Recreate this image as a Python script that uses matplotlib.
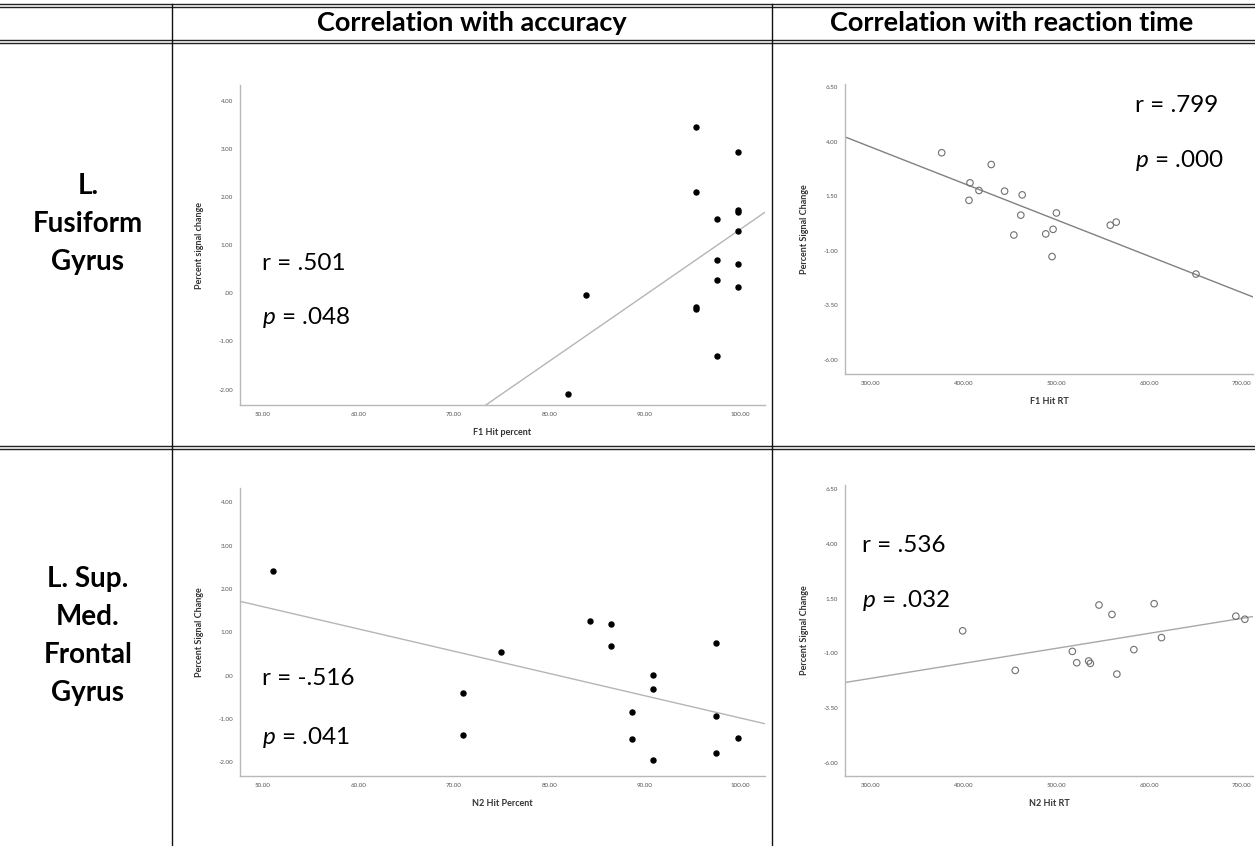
import matplotlib
matplotlib.use('Agg')
import matplotlib.pyplot as plt
from matplotlib.lines import Line2D

plt.rcParams['font.family'] = ['Lato', 'DejaVu Sans']
plt.rcParams['mathtext.fontset'] = 'custom'
plt.rcParams['mathtext.it'] = 'Lato:italic'
plt.rcParams['mathtext.rm'] = 'Lato'

# ---- data ----
# L. Fusiform Gyrus, accuracy (F1 Hit percent vs percent signal change)
fus_acc_x = [95.4, 99.8, 95.4, 99.8, 99.8, 97.6, 99.8, 97.6, 99.8, 97.6, 99.8,
             83.8, 95.4, 95.4, 97.6, 82.0]
fus_acc_y = [3.46, 2.93, 2.11, 1.73, 1.70, 1.55, 1.29, 0.69, 0.61, 0.28, 0.13,
             -0.04, -0.28, -0.32, -1.30, -2.10]
fus_acc_fit = (0.137, -12.37)   # slope, intercept
fus_acc_stats = ('.501', '.048')

# L. Fusiform Gyrus, reaction time (F1 Hit RT)
fus_rt_x = [376.3, 429.7, 406.8, 416.5, 405.7, 444.1, 463.1, 461.6, 500.0,
            454.1, 488.5, 496.4, 495.3, 558.1, 564.5, 650.5]
fus_rt_y = [3.50, 2.96, 2.12, 1.77, 1.32, 1.74, 1.57, 0.64, 0.74,
            -0.27, -0.22, -0.01, -1.26, 0.18, 0.32, -2.06]
fus_rt_fit = (-0.01667, 8.76)
fus_rt_stats = ('.799', '.000')

# L. Sup. Med. Frontal Gyrus, accuracy (N2 Hit Percent)
smf_acc_x = [51.1, 74.9, 71.0, 71.0, 84.3, 86.5, 86.5, 88.7, 88.7, 90.9,
             90.9, 90.9, 97.5, 97.5, 97.5, 99.8]
smf_acc_y = [2.41, 0.54, -0.40, -1.37, 1.25, 1.20, 0.69, -0.84, -1.47, 0.01,
             -0.31, -1.96, 0.76, -0.94, -1.80, -1.45]
smf_acc_fit = (-0.0514, 4.16)
smf_acc_stats = ('-.516', '.041')

# L. Sup. Med. Frontal Gyrus, reaction time (N2 Hit RT)
smf_rt_x = [398.9, 455.6, 517.2, 521.9, 534.8, 536.6, 545.9, 559.9, 565.2,
            583.5, 605.4, 613.3, 693.5, 703.2]
smf_rt_y = [0.03, -1.78, -0.91, -1.43, -1.35, -1.46, 1.21, 0.78, -1.95,
            -0.83, 1.27, -0.28, 0.70, 0.56]
smf_rt_fit = (0.00686, -4.20)
smf_rt_stats = ('.536', '.032')

acc_xticks = [50, 60, 70, 80, 90, 100]
acc_xlabels = ['50.00', '60.00', '70.00', '80.00', '90.00', '100.00']
acc_yticks = [4, 3, 2, 1, 0, -1, -2]
acc_ylabels = ['4.00', '3.00', '2.00', '1.00', '.00', '-1.00', '-2.00']
rt_xticks = [300, 400, 500, 600, 700]
rt_xlabels = ['300.00', '400.00', '500.00', '600.00', '700.00']
rt_yticks = [6.5, 4, 1.5, -1, -3.5, -6]
rt_ylabels = ['6.50', '4.00', '1.50', '-1.00', '-3.50', '-6.00']

col_headers = ['Correlation with accuracy', 'Correlation with reaction time']
row_headers = ['L.\nFusiform\nGyrus', 'L. Sup.\nMed.\nFrontal\nGyrus']

W, H = 1255, 846
fig = plt.figure(figsize=(W / 100, H / 100), dpi=100)


def px_axes(l, t, r, b):
    return fig.add_axes([l / W, 1 - b / H, (r - l) / W, (b - t) / H])


def fx(x):
    return x / W


def fy(y):
    return 1 - y / H


def scatter_panel(ax, x, y, fit, xt, xl, yt, yl, xlim, ylim, xlabel, ylabel,
                  filled, line_col):
    if filled:
        ax.scatter(x, y, s=13, color='black', zorder=3)
    else:
        ax.scatter(x, y, s=22, facecolors='none', edgecolors='#707070',
                   linewidths=0.8, zorder=3)
    ax.axline((0, fit[1]), slope=fit[0], color=line_col, lw=1.0, zorder=2)
    ax.set_xlim(xlim)
    ax.set_ylim(ylim)
    ax.set_xticks(xt)
    ax.set_xticklabels(xl)
    ax.set_yticks(yt)
    ax.set_yticklabels(yl)
    ax.tick_params(length=0, labelsize=4.5, labelcolor='#555555', pad=5)
    for s in ['top', 'right']:
        ax.spines[s].set_visible(False)
    for s in ['left', 'bottom']:
        ax.spines[s].set_color('#b8b8b8')
        ax.spines[s].set_linewidth(1.0)
    ax.set_xlabel(xlabel, fontsize=6.5, fontweight='bold', color='#333333', labelpad=8)
    ax.set_ylabel(ylabel, fontsize=6.5, fontweight='bold', color='#333333', labelpad=10)
    ax.patch.set_alpha(0)


ax1 = px_axes(240, 85, 765, 405)
scatter_panel(ax1, fus_acc_x, fus_acc_y, fus_acc_fit, acc_xticks, acc_xlabels,
              acc_yticks, acc_ylabels, (47.6, 102.6), (-2.32, 4.33),
              'F1 Hit percent', 'Percent signal change', True, '#b5b5b5')

ax2 = px_axes(845, 84, 1253, 374)
scatter_panel(ax2, fus_rt_x, fus_rt_y, fus_rt_fit, rt_xticks, rt_xlabels,
              rt_yticks, rt_ylabels, (272, 712), (-6.64, 6.65),
              'F1 Hit RT', 'Percent Signal Change', False, '#808080')

ax3 = px_axes(240, 488, 765, 776)
scatter_panel(ax3, smf_acc_x, smf_acc_y, smf_acc_fit, acc_xticks, acc_xlabels,
              acc_yticks, acc_ylabels, (47.6, 102.6), (-2.32, 4.33),
              'N2 Hit Percent', 'Percent Signal Change', True, '#b5b5b5')

ax4 = px_axes(845, 485, 1253, 776)
scatter_panel(ax4, smf_rt_x, smf_rt_y, smf_rt_fit, rt_xticks, rt_xlabels,
              rt_yticks, rt_ylabels, (272, 712), (-6.61, 6.7),
              'N2 Hit RT', 'Percent Signal Change', False, '#a8a8a8')

# r / p annotations
stat_pos = [(fus_acc_stats, 262, 264, 318), (fus_rt_stats, 1135, 105, 160),
            (smf_acc_stats, 262, 678, 737), (smf_rt_stats, 862, 545, 600)]
for (r, p), x, yr, yp in stat_pos:
    fig.text(fx(x), fy(yr), 'r = ' + r, fontsize=17.5, va='center', ha='left')
    fig.text(fx(x), fy(yp), '$p$ = ' + p, fontsize=17.5, va='center', ha='left')

# table lines
for y in [4, 7, 40, 43]:
    fig.add_artist(Line2D([0, 1], [fy(y), fy(y)], color='#222222', lw=1.0))
for y in [446, 449]:
    fig.add_artist(Line2D([0, 1], [fy(y), fy(y)], color='#222222', lw=1.0))
for x in [172, 772]:
    fig.add_artist(Line2D([fx(x), fx(x)], [fy(4), 0], color='#111111', lw=1.0))

# headers
fig.text(fx(472), fy(23), col_headers[0], fontsize=19.5, fontweight='bold',
         ha='center', va='center')
fig.text(fx(1012), fy(23), col_headers[1], fontsize=19.5, fontweight='bold',
         ha='center', va='center')
fig.text(fx(88), fy(224), row_headers[0], fontsize=20, fontweight='bold',
         ha='center', va='center', linespacing=1.58)
fig.text(fx(88), fy(636), row_headers[1], fontsize=20, fontweight='bold',
         ha='center', va='center', linespacing=1.58)

fig.savefig('out.png', dpi=100, facecolor='white')
